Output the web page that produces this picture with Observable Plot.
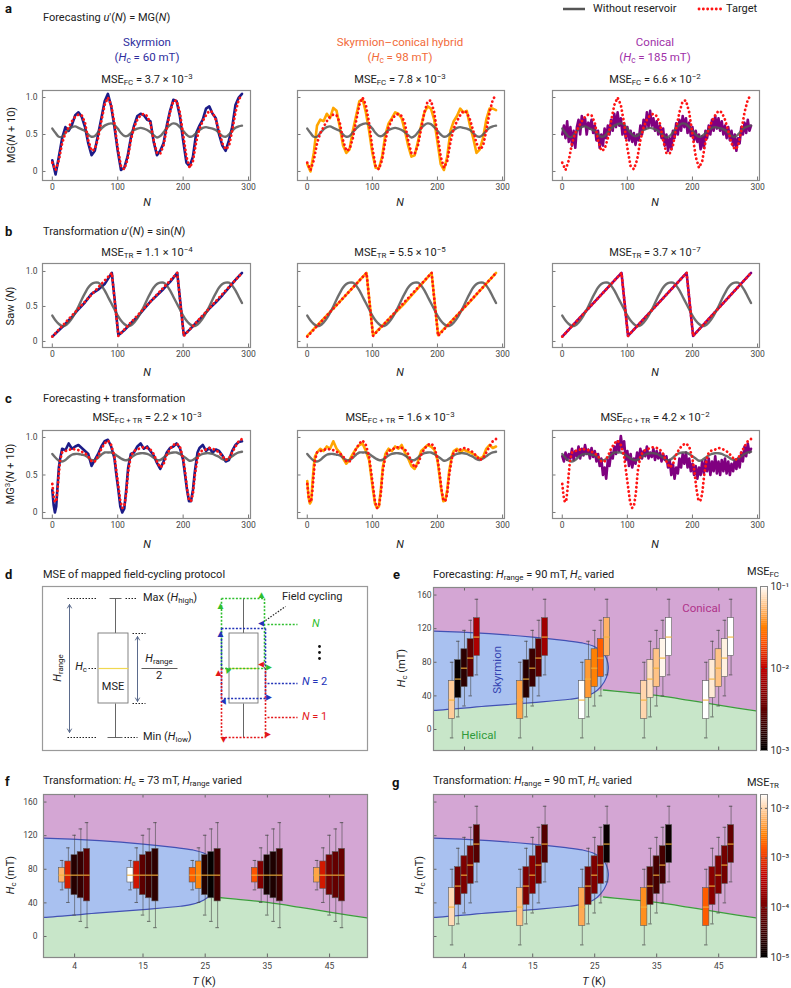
<!DOCTYPE html>
<html><head><meta charset="utf-8">
<script src="https://cdn.jsdelivr.net/npm/d3@7"></script>
<script src="https://cdn.jsdelivr.net/npm/@observablehq/plot@0.6"></script>
<style>
body{margin:0;background:#fff;}
#root{position:relative;width:791px;height:988px;overflow:hidden;font-family:Roboto,"Liberation Sans",sans-serif;color:#222;background:#fff;}
.t{position:absolute;white-space:nowrap;line-height:1.1;}
sub{font-size:0.72em;position:relative;top:0.28em;vertical-align:baseline;line-height:0;}
sup{font-size:0.72em;position:relative;top:-0.45em;vertical-align:baseline;line-height:0;}
svg{position:absolute;}
</style></head><body><div id="root"></div>
<script>
// ================= DATA =================
// --- panels a–c: grids of N ---
const N5 = d3.range(0, 291, 5);
const N25 = d3.range(0, 290.1, 2.5);
// a: Mackey-Glass forecasting
const mgTarget = [0.12,0.02,0.15,0.38,0.52,0.6,0.68,0.74,0.77,0.76,0.66,0.42,0.28,0.3,0.45,0.68,0.9,1.0,0.9,0.65,0.32,0.07,0.03,0.16,0.42,0.6,0.7,0.76,0.78,0.75,0.65,0.42,0.25,0.24,0.35,0.58,0.8,0.95,0.96,0.8,0.5,0.2,0.05,0.14,0.4,0.58,0.68,0.76,0.82,0.8,0.7,0.55,0.38,0.3,0.34,0.55,0.8,0.97,1.04];
const predSkyA = [0.15,-0.04,0.2,0.45,0.6,0.55,0.63,0.76,0.8,0.74,0.6,0.38,0.22,0.28,0.5,0.72,0.95,1.05,0.88,0.6,0.28,0.02,0.05,0.2,0.45,0.62,0.75,0.78,0.76,0.7,0.68,0.4,0.22,0.28,0.38,0.62,0.82,0.97,0.95,0.75,0.42,0.12,0.07,0.2,0.52,0.62,0.7,0.85,0.88,0.78,0.72,0.5,0.35,0.28,0.42,0.6,0.9,1.0,1.05];
const predHybA = [0.1,0.0,0.25,0.62,0.7,0.68,0.78,0.72,0.86,0.82,0.6,0.35,0.25,0.3,0.55,0.75,0.95,0.98,0.8,0.55,0.25,0.05,0.04,0.2,0.5,0.65,0.72,0.8,0.78,0.72,0.55,0.35,0.2,0.22,0.4,0.62,0.8,0.88,0.85,0.7,0.4,0.1,0.02,0.2,0.55,0.68,0.75,0.85,0.8,0.82,0.62,0.45,0.25,0.3,0.45,0.7,0.85,0.85,0.83];
const predConA = [0.5,0.62,0.45,0.68,0.4,0.6,0.35,0.55,0.32,0.6,0.7,0.5,0.75,0.62,0.72,0.5,0.66,0.58,0.7,0.52,0.62,0.42,0.55,0.32,0.5,0.35,0.58,0.45,0.62,0.5,0.7,0.55,0.78,0.6,0.8,0.62,0.72,0.5,0.65,0.45,0.6,0.42,0.55,0.4,0.52,0.36,0.5,0.42,0.62,0.5,0.7,0.58,0.8,0.6,0.82,0.62,0.72,0.55,0.68,0.5,0.62,0.45,0.58,0.35,0.5,0.28,0.45,0.3,0.55,0.45,0.65,0.5,0.7,0.55,0.75,0.6,0.72,0.52,0.66,0.48,0.6,0.42,0.55,0.4,0.5,0.3,0.48,0.32,0.55,0.45,0.62,0.5,0.7,0.55,0.75,0.58,0.72,0.55,0.68,0.5,0.62,0.45,0.6,0.42,0.55,0.35,0.5,0.28,0.45,0.38,0.6,0.5,0.66,0.52,0.7,0.55,0.62];
const grayA = [0.58,0.52,0.47,0.47,0.52,0.57,0.6,0.61,0.59,0.57,0.55,0.5,0.47,0.48,0.53,0.58,0.62,0.64,0.65,0.63,0.58,0.52,0.48,0.48,0.52,0.56,0.58,0.59,0.58,0.56,0.53,0.49,0.46,0.48,0.53,0.59,0.63,0.65,0.64,0.6,0.55,0.5,0.47,0.48,0.52,0.56,0.59,0.6,0.59,0.58,0.56,0.52,0.48,0.47,0.5,0.55,0.59,0.61,0.62];
// b: sawtooth transformation
const sawN = [0,91,101,191,201,290];
const sawV = [0.07,0.98,0.08,0.98,0.08,0.98];
const skyB_N = [0,10,20,30,40,50,60,70,80,91,101,110,120,130,140,150,160,170,180,191,201,210,220,230,240,250,260,270,280,290];
const skyB_V = [0.07,0.16,0.25,0.35,0.46,0.56,0.68,0.74,0.82,0.98,0.09,0.16,0.26,0.35,0.46,0.57,0.66,0.75,0.85,0.98,0.09,0.17,0.27,0.36,0.47,0.56,0.66,0.77,0.88,0.98];
const hybB_N = [0,45,91,101,150,191,201,250,290];
const hybB_V = [0.08,0.52,0.98,0.09,0.55,0.98,0.09,0.57,0.98];
const conB_N = [0,91,101,191,201,290];
const conB_V = [0.07,0.98,0.08,0.98,0.08,0.98];
const grayBPeriod = [0.37,0.3,0.25,0.22,0.23,0.27,0.33,0.41,0.5,0.6,0.69,0.77,0.82,0.84,0.84,0.8,0.73,0.64,0.55,0.46];
const grayB = [...grayBPeriod, ...grayBPeriod, ...grayBPeriod.slice(0, 19)];
// c: forecasting + transformation
const mg3N = [0,2,4,6,8,10,12,15,20,25,30,35,40,45,50,55,60,65,70,75,80,85,90,95,98,101,104,107,110,113,116,120,125,130,135,140,145,150,155,160,165,170,175,180,185,190,195,200,203,206,209,212,215,218,222,225,230,235,240,245,250,255,260,265,270,275,280,285,290];
const mg3Target = [0.38,0.22,0.14,0.15,0.3,0.52,0.7,0.8,0.82,0.83,0.85,0.84,0.83,0.81,0.79,0.75,0.68,0.68,0.75,0.85,0.92,0.96,0.9,0.75,0.55,0.35,0.15,0.06,0.08,0.25,0.55,0.75,0.82,0.84,0.86,0.87,0.86,0.84,0.78,0.68,0.6,0.64,0.77,0.85,0.9,0.92,0.88,0.72,0.55,0.32,0.17,0.15,0.25,0.5,0.72,0.8,0.83,0.84,0.86,0.85,0.83,0.8,0.75,0.7,0.72,0.8,0.88,0.95,0.98];
const predSkyC = [0.3,0.1,0.0,0.08,0.35,0.6,0.72,0.85,0.83,0.92,0.85,0.88,0.9,0.86,0.82,0.78,0.62,0.7,0.78,0.88,0.95,0.97,0.88,0.72,0.5,0.3,0.08,0.0,0.05,0.3,0.6,0.78,0.8,0.88,0.92,0.85,0.88,0.82,0.76,0.66,0.58,0.68,0.8,0.86,0.88,0.92,0.86,0.7,0.5,0.3,0.15,0.15,0.3,0.55,0.8,0.86,0.9,0.82,0.86,0.8,0.84,0.82,0.76,0.68,0.7,0.82,0.9,0.94,0.95];
const predHybC = [0.42,0.2,0.12,0.15,0.4,0.62,0.75,0.8,0.85,0.82,0.88,0.85,0.95,0.85,0.8,0.72,0.65,0.7,0.78,0.85,0.9,0.92,0.82,0.7,0.5,0.3,0.12,0.06,0.08,0.3,0.6,0.78,0.85,0.82,0.88,0.85,0.9,0.8,0.72,0.62,0.58,0.68,0.82,0.86,0.9,0.88,0.84,0.7,0.5,0.3,0.15,0.16,0.3,0.55,0.75,0.82,0.85,0.8,0.84,0.82,0.8,0.78,0.75,0.72,0.74,0.85,0.9,0.86,0.88];
const predConC = [0.75,0.68,0.8,0.7,0.78,0.72,0.85,0.7,0.82,0.75,0.88,0.72,0.85,0.76,0.9,0.78,0.84,0.72,0.86,0.74,0.82,0.68,0.78,0.62,0.72,0.5,0.6,0.45,0.7,0.62,0.8,0.72,0.88,0.78,0.95,0.82,1.02,0.85,0.95,0.7,0.82,0.62,0.78,0.6,0.72,0.65,0.8,0.7,0.85,0.72,0.82,0.75,0.88,0.72,0.8,0.74,0.85,0.7,0.82,0.72,0.8,0.68,0.78,0.7,0.75,0.6,0.7,0.5,0.65,0.45,0.6,0.52,0.72,0.6,0.78,0.65,0.8,0.6,0.72,0.55,0.65,0.5,0.62,0.45,0.6,0.5,0.68,0.52,0.7,0.55,0.72,0.5,0.68,0.55,0.75,0.52,0.68,0.5,0.7,0.55,0.72,0.52,0.68,0.5,0.65,0.55,0.7,0.58,0.72,0.6,0.8,0.68,0.88,0.75,0.92,0.8,0.85];
const grayC = [0.78,0.73,0.69,0.68,0.7,0.74,0.77,0.78,0.78,0.77,0.76,0.73,0.7,0.7,0.73,0.77,0.8,0.8,0.8,0.78,0.75,0.72,0.7,0.7,0.73,0.76,0.78,0.79,0.79,0.78,0.76,0.73,0.7,0.7,0.73,0.77,0.79,0.8,0.8,0.78,0.75,0.72,0.69,0.7,0.73,0.76,0.78,0.79,0.79,0.78,0.76,0.74,0.71,0.7,0.72,0.75,0.78,0.8,0.81];

// --- panels e–g ---
const T_GROUPS = [4, 15, 25, 35, 45];
const HC_VARIED = [35, 60, 73, 85, 110];
const HRANGE_FIXED = 90;
const HC_FIXED = 73;
const HRANGE_VARIED = [35, 65, 95, 110, 125];
const mseFC_e = [[0.063,0.0011,0.0017,0.0032,0.0079],[0.044,0.0016,0.002,0.0032,0.0069],[0.1,0.04,0.032,0.023,0.05],[0.069,0.076,0.058,0.091,0.1],[0.1,0.083,0.058,0.087,0.1]];
const mseTR_f = [[6.2e-3,6.9e-4,2.1e-5,2.9e-5,6.1e-5],[1.9e-2,5.9e-4,6.1e-5,3.4e-5,2.5e-5],[1.8e-3,3.1e-3,1.8e-5,1.1e-5,3.4e-5],[1.5e-3,1.3e-4,1.6e-5,1.8e-5,3.4e-5],[4.9e-3,6.3e-4,9.6e-5,7.1e-5,7.7e-5]];
const mseTR_g = [[1.1e-2,9.6e-5,1.2e-4,9.6e-5,5.2e-5],[7.7e-3,1.2e-4,1.5e-4,9.6e-5,5.2e-5],[5.3e-3,9.6e-5,1.2e-4,9.6e-5,1.2e-5],[3.6e-3,5.2e-5,3.9e-5,3.9e-5,1.25e-5],[1.7e-3,1.5e-4,1.2e-4,9.6e-5,7.1e-5]];
// phase boundaries (T in K, H in mT)
const skyT = [-4,-1,8,15,20,23,25,26.5,27.2,26.9,26,24.8,23,21,15,8,-1,-4];
const skyH = [117.3,117,114,110,106,103,98.5,90,75,62,51,43.5,38.5,36,32,28,22.8,22.5];
const helT = [-4,-1,8,15,21,23,24.8,26.4,30,35,40,45,52];
const helH = [22.5,22.8,28,32,36,38.5,43.5,47,44.5,40.5,35,29,21];
const helEdgeT = [26.4,30,35,40,45,52];
const helEdgeH = [47,44.5,40.5,35,29,21];
const phaseLabels = [
  {T:42.2, H:144.5, text:"Conical", color:"#b0338a", rotate:0},
  {T:9.3, H:71, text:"Skyrmion", color:"#3443b0", rotate:-90},
  {T:6.3, H:-7, text:"Helical", color:"#2f9a3a", rotate:0}
];

// --- panel d schematic (units in schematic space) ---
const dBoxes = [{x1:56,x2:86,y1:47,y2:117},{x1:187,x2:216,y1:47,y2:117}];
const dWhiskers = [{x1:73,y1:12,x2:73,y2:47},{x1:73,y1:117,x2:73,y2:151},{x1:201,y1:12,x2:201,y2:47},{x1:201,y1:117,x2:201,y2:151}];
const dCaps = [{x1:67,y1:12,x2:79,y2:12},{x1:65,y1:151,x2:80,y2:151}];
const dMedians = [{x1:56,y1:82,x2:86,y2:82},{x1:187,y1:82,x2:216,y2:82}];
const dLeaders = [{x1:25,y1:12,x2:55,y2:12},{x1:83,y1:12,x2:95,y2:12},{x1:46,y1:82,x2:55,y2:82},{x1:25,y1:151,x2:55,y2:151},{x1:82,y1:151,x2:95,y2:151},{x1:90,y1:47,x2:103,y2:47},{x1:90,y1:117,x2:103,y2:117},{x1:223,y1:34,x2:243,y2:20}];
const dRange = [{x1:27,y1:82,x2:27,y2:18},{x1:27,y1:82,x2:27,y2:146},{x1:95,y1:82,x2:95,y2:50},{x1:95,y1:82,x2:95,y2:115}];
const dFraction = [{x1:99,y1:82,x2:135,y2:82}];
const GREEN = "#2fbf2f", BLUE = "#2233b8", RED = "#e3171a";
const dCycle = [
  {x1:179,y1:82,x2:179,y2:12,c:GREEN},{x1:179,y1:12,x2:222,y2:12,c:GREEN},{x1:222,y1:12,x2:222,y2:82,c:GREEN},{x1:179,y1:82,x2:222,y2:82,c:GREEN},
  {x1:179,y1:42,x2:223,y2:42,c:BLUE},{x1:223,y1:42,x2:223,y2:112,c:BLUE},{x1:223,y1:112,x2:179,y2:112,c:BLUE},{x1:179,y1:112,x2:179,y2:42,c:BLUE},
  {x1:179,y1:82,x2:179,y2:151,c:RED},{x1:179,y1:151,x2:223,y2:151,c:RED},{x1:223,y1:151,x2:223,y2:82,c:RED},
  {x1:225,y1:38,x2:255,y2:38,c:GREEN},{x1:225,y1:97,x2:255,y2:97,c:BLUE},{x1:225,y1:131,x2:255,y2:131,c:RED}
];
const dHeads = [
  {x:178,y:19,r:0,c:GREEN},{x:219,y:8,r:0,c:GREEN},{x:185,y:85,r:200,c:GREEN},{x:227,y:81,r:90,c:GREEN},
  {x:178,y:47,r:0,c:BLUE},{x:218,y:37,r:-90,c:BLUE},{x:182,y:116,r:150,c:BLUE},{x:227,y:111,r:90,c:BLUE},
  {x:181,y:154,r:180,c:RED},{x:226,y:148,r:90,c:RED},{x:218,y:78,r:-90,c:RED},{x:176,y:86,r:0,c:RED}
];
const dVdots = [{x:277,y:60},{x:277,y:66},{x:277,y:72}];

// ================= HELPERS =================
const FONT = "Roboto, 'Liberation Sans', sans-serif";
const root = document.getElementById("root");
function txt(html, x, y, o = {}) {
  const {anchor = "middle", size = 11, color = "#222", weight = 400, rotate = 0} = o;
  const d = document.createElement("div");
  d.className = "t";
  d.innerHTML = html;
  Object.assign(d.style, {left: x + "px", top: y + "px", fontSize: size + "px", color, fontWeight: weight});
  const tx = anchor === "start" ? "0" : anchor === "end" ? "-100%" : "-50%";
  d.style.transform = `translate(${tx},-50%)` + (rotate ? ` rotate(${rotate}deg)` : "");
  root.appendChild(d);
}
function place(svg, left, top) { svg.style.left = left + "px"; svg.style.top = top + "px"; root.appendChild(svg); }
const pts = (Ns, vs) => vs.map((v, i) => ({N: Ns[i], v}));
function gistHeat(t) {
  const r = Math.min(1, 1.5 * t), g = Math.max(0, Math.min(1, 2 * t - 1)), b = Math.max(0, Math.min(1, 4 * t - 3));
  return d3.rgb(255 * r, 255 * g, 255 * b).formatHex();
}
const SUP = {"1":"¹","2":"²","3":"³","4":"⁴","5":"⁵"};

// ================= PANELS a–c =================
const XDOM = [-15, 303];
const COLS = [{x:42,w:208},{x:297,w:207},{x:552,w:207}];
const ROWS = {a:{y:90,h:90,dom:[-0.122,1.095]}, b:{y:263,h:84,dom:[-0.086,1.114]}, c:{y:430,h:88,dom:[-0.08,1.093]}};
const PRED_COLORS = ["#1c1c88", "#ffa500", "#800080"];
function tsPlot(col, row, pred, gray, target) {
  const {x: fx, w: fw} = COLS[col];
  const {y: fy, h: fh, dom} = ROWS[row];
  const mL = 36, mR = 4, mT = 3, mB = 16;
  const pxu = fw / (XDOM[1] - XDOM[0]), pyu = fh / (dom[1] - dom[0]);
  const svg = Plot.plot({
    width: fw + mL + mR, height: fh + mT + mB,
    marginLeft: mL, marginRight: mR, marginTop: mT, marginBottom: mB,
    style: {fontFamily: FONT, fontSize: "8.5px", color: "#444", background: "transparent", overflow: "visible"},
    x: {domain: XDOM, ticks: [0, 100, 200, 300], tickSize: 0, tickPadding: 3, label: null},
    y: {domain: dom, ticks: [0, 0.5, 1], tickSize: 0, tickPadding: 5, label: null, axis: col === 0 ? "left" : null, tickFormat: d => d === 0 ? "0" : d.toFixed(1)},
    marks: [
      Plot.line(pred, {x: "N", y: "v", stroke: PRED_COLORS[col], strokeWidth: 2.6, clip: true}),
      Plot.line(gray, {x: "N", y: "v", stroke: "#555", strokeOpacity: 0.85, strokeWidth: 2.4, curve: "catmull-rom", clip: true}),
      Plot.line(target, {x: "N", y: "v", stroke: "#ff1414", strokeWidth: 2.8, strokeDasharray: "0.1 4.2", strokeLinecap: "round", clip: true}),
      Plot.ruleX([0, 100, 200, 300], {x: d => d, y1: () => dom[0], y2: () => dom[0] + 3.5 / pyu, stroke: "#777"}),
      Plot.ruleY([0, 0.5, 1], {y: d => d, x1: () => XDOM[0], x2: () => XDOM[0] + 3.5 / pxu, stroke: "#777"}),
      Plot.frame({stroke: "#8a8a8a", strokeWidth: 1.2})
    ]
  });
  place(svg, fx - mL, fy - mT);
}
const aTarget = pts(N5, mgTarget);
tsPlot(0, "a", pts(N5, predSkyA), pts(N5, grayA), aTarget);
tsPlot(1, "a", pts(N5, predHybA), pts(N5, grayA), aTarget);
tsPlot(2, "a", pts(N25, predConA), pts(N5, grayA), aTarget);
const bTarget = pts(sawN, sawV);
tsPlot(0, "b", pts(skyB_N, skyB_V), pts(N5, grayB), bTarget);
tsPlot(1, "b", pts(hybB_N, hybB_V), pts(N5, grayB), bTarget);
tsPlot(2, "b", pts(conB_N, conB_V), pts(N5, grayB), bTarget);
const cTarget = pts(mg3N, mg3Target);
tsPlot(0, "c", pts(mg3N, predSkyC), pts(N5, grayC), cTarget);
tsPlot(1, "c", pts(mg3N, predHybC), pts(N5, grayC), cTarget);
tsPlot(2, "c", pts(N25, predConC), pts(N5, grayC), cTarget);

// ================= PANELS e–g =================
const C_CON = "#d4a6d4", C_SKY = "#a9c1f0", C_HEL = "#c8e6c9", C_SKY_EDGE = "#4251b4", C_HEL_EDGE = "#3d9c3d";
const skyPts = skyT.map((T, i) => ({T, H: skyH[i]}));
const helPts = helT.map((T, i) => ({T, H: helH[i]}));
const helEdgePts = helEdgeT.map((T, i) => ({T, H: helEdgeH[i]}));
function phase(fx, fy, fw, fh, boxes, cdom, showY, showX, yPad, annotate) {
  const XD = [-1, 51.1], YD = [-25, 169];
  const mL = 30, mR = 2, mT = 2, mB = showX ? 20 : 3;
  const pxu = fw / (XD[1] - XD[0]), pyu = fh / (YD[1] - YD[0]);
  const marks = [
    Plot.frame({fill: C_CON, stroke: null}),
    Plot.areaY(helPts, {x: "T", y1: () => YD[0] - 20, y2: "H", fill: C_HEL, clip: true}),
    Plot.line(skyPts, {x: "T", y: "H", fill: C_SKY, stroke: C_SKY_EDGE, strokeWidth: 1.2, curve: "catmull-rom-closed", clip: true}),
    Plot.line(helEdgePts, {x: "T", y: "H", stroke: C_HEL_EDGE, strokeWidth: 1.3, curve: "catmull-rom", clip: true}),
    Plot.ruleX(boxes, {x: "x", y1: "lo", y2: "hi", stroke: "#4a4a4a", strokeWidth: 0.8, strokeOpacity: 0.75}),
    Plot.ruleY(boxes, {y: "hi", x1: d => d.x - 0.28, x2: d => d.x + 0.28, stroke: "#4a4a4a", strokeWidth: 0.8}),
    Plot.ruleY(boxes, {y: "lo", x1: d => d.x - 0.28, x2: d => d.x + 0.28, stroke: "#4a4a4a", strokeWidth: 0.8}),
    Plot.rect(boxes, {x1: d => d.x - 0.5, x2: d => d.x + 0.5, y1: "q1", y2: "q3", fill: "mse", stroke: "#5a5a5a", strokeWidth: 0.6}),
    Plot.ruleY(boxes, {y: "hc", x1: d => d.x - 0.5, x2: d => d.x + 0.5, stroke: "#f2b23a", strokeWidth: 1.1}),
    Plot.ruleX(T_GROUPS, {x: d => d, y1: () => YD[0], y2: () => YD[0] + 3.5 / pyu, stroke: "#666"}),
    Plot.ruleX(T_GROUPS, {x: d => d, y1: () => YD[1], y2: () => YD[1] - 3.5 / pyu, stroke: "#666"}),
    Plot.ruleY([0, 40, 80, 120, 160], {y: d => d, x1: () => XD[0], x2: () => XD[0] + 3.5 / pxu, stroke: "#666"}),
    Plot.frame({stroke: "#888", strokeWidth: 1.2})
  ];
  if (annotate) marks.push(Plot.text(phaseLabels, {x: "T", y: "H", text: "text", fill: d => d.color, rotate: "rotate", fontSize: 11.5}));
  const svg = Plot.plot({
    width: fw + mL + mR, height: fh + mT + mB,
    marginLeft: mL, marginRight: mR, marginTop: mT, marginBottom: mB,
    style: {fontFamily: FONT, fontSize: "8.5px", color: "#444", background: "transparent", overflow: "visible"},
    x: {domain: XD, ticks: T_GROUPS, tickSize: 0, tickPadding: 5, label: null, axis: showX ? "bottom" : null},
    y: {domain: YD, ticks: [0, 40, 80, 120, 160], tickSize: 0, tickPadding: yPad, label: null, axis: showY ? "left" : null},
    color: {type: "log", domain: cdom, interpolate: gistHeat, clamp: true},
    marks
  });
  place(svg, fx - mL, fy - mT);
}
function colorbar(fx, fy, fw, fh, cdom, tickVals) {
  const lo = Math.log10(cdom[0]), hi = Math.log10(cdom[1]), n = 80;
  const steps = d3.range(n).map(i => {
    const a = 10 ** (lo + (hi - lo) * i / n), b = 10 ** (lo + (hi - lo) * (i + 1) / n);
    return {a, b, m: Math.sqrt(a * b)};
  });
  const svg = Plot.plot({
    width: fw + 24, height: fh + 2, marginLeft: 0, marginRight: 24, marginTop: 1, marginBottom: 1,
    style: {fontFamily: FONT, fontSize: "10px", color: "#333", background: "transparent", overflow: "visible"},
    x: {domain: [0, 1], axis: null},
    y: {type: "log", domain: cdom, axis: "right", ticks: tickVals, tickSize: 0, tickPadding: 3, label: null,
        tickFormat: d => "10⁻" + SUP[String(Math.round(-Math.log10(d)))]},
    color: {type: "log", domain: cdom, interpolate: gistHeat, clamp: true},
    marks: [
      Plot.rect(steps, {x1: () => 0, x2: () => 1, y1: "a", y2: "b", fill: "m"}),
      Plot.ruleY(tickVals, {y: d => d, x1: () => 0, x2: () => 0.3, stroke: "#555"}),
      Plot.ruleY(tickVals, {y: d => d, x1: () => 0.7, x2: () => 1, stroke: "#555"}),
      Plot.frame({stroke: "#888"})
    ]
  });
  place(svg, fx, fy - 1);
}
const boxesE = T_GROUPS.flatMap((T, gi) => HC_VARIED.map((hc, i) => ({x: T + (i - 2), hc, lo: hc - HRANGE_FIXED / 2, hi: hc + HRANGE_FIXED / 2, q1: hc - HRANGE_FIXED / 4, q3: hc + HRANGE_FIXED / 4, mse: mseFC_e[gi][i]})));
const boxesF = T_GROUPS.flatMap((T, gi) => HRANGE_VARIED.map((r, i) => ({x: T + (i - 2), hc: HC_FIXED, lo: HC_FIXED - r / 2, hi: HC_FIXED + r / 2, q1: HC_FIXED - r / 4, q3: HC_FIXED + r / 4, mse: mseTR_f[gi][i]})));
const boxesG = T_GROUPS.flatMap((T, gi) => HC_VARIED.map((hc, i) => ({x: T + (i - 2), hc, lo: hc - HRANGE_FIXED / 2, hi: hc + HRANGE_FIXED / 2, q1: hc - HRANGE_FIXED / 4, q3: hc + HRANGE_FIXED / 4, mse: mseTR_g[gi][i]})));
const FC_DOM = [1e-3, 1e-1], TR_DOM = [1e-5, 1.9e-2];
phase(433, 587, 323, 163, boxesE, FC_DOM, true, false, 2, true);
phase(43, 794, 324, 163, boxesF, TR_DOM, true, true, 6, false);
phase(433, 794, 323, 163, boxesG, TR_DOM, false, true, 0, false);
colorbar(760, 586, 7, 164, FC_DOM, [1e-3, 1e-2, 1e-1]);
colorbar(760, 794, 7, 163, TR_DOM, [1e-5, 1e-4, 1e-3, 1e-2]);

// ================= PANEL d =================
const dPlot = Plot.plot({
  width: 325, height: 164, margin: 0,
  style: {background: "transparent", overflow: "visible", fontFamily: FONT},
  x: {domain: [0, 325], axis: null},
  y: {domain: [0, 164], reverse: true, axis: null},
  color: {type: "identity"},
  marks: [
    Plot.frame({stroke: "#9a9a9a", strokeWidth: 1.2}),
    Plot.link(dWhiskers, {x1: "x1", y1: "y1", x2: "x2", y2: "y2", stroke: "#555", strokeWidth: 0.9}),
    Plot.link(dCaps, {x1: "x1", y1: "y1", x2: "x2", y2: "y2", stroke: "#555", strokeWidth: 0.9}),
    Plot.rect(dBoxes, {x1: "x1", x2: "x2", y1: "y1", y2: "y2", fill: "white", stroke: "#777", strokeWidth: 0.9}),
    Plot.link(dMedians, {x1: "x1", y1: "y1", x2: "x2", y2: "y2", stroke: "#f0d850", strokeWidth: 1.2}),
    Plot.link(dLeaders, {x1: "x1", y1: "y1", x2: "x2", y2: "y2", stroke: "#222", strokeWidth: 1.2, strokeDasharray: "1.5 1.5"}),
    Plot.arrow(dRange, {x1: "x1", y1: "y1", x2: "x2", y2: "y2", stroke: "#5b6b8c", strokeWidth: 1, headLength: 6}),
    Plot.link(dFraction, {x1: "x1", y1: "y1", x2: "x2", y2: "y2", stroke: "#333", strokeWidth: 0.8}),
    Plot.link(dCycle, {x1: "x1", y1: "y1", x2: "x2", y2: "y2", stroke: "c", strokeWidth: 1.6, strokeDasharray: "2 1.6"}),
    Plot.text(dHeads, {x: "x", y: "y", text: () => "▲", rotate: "r", fill: "c", fontSize: 10}),
    Plot.dot(dVdots, {x: "x", y: "y", r: 1.4, fill: "#111", stroke: null})
  ]
});
place(dPlot, 42, 586);

// ================= TEXT =================
const L = {size: 13, weight: 700, anchor: "start", color: "#111"};
txt("a", 5, 9, L); txt("b", 5, 232, L); txt("c", 5, 399, L); txt("d", 5, 575, L);
txt("e", 393, 575, L); txt("f", 5, 782, L); txt("g", 392, 783, L);
const T1 = {anchor: "start", size: 11, color: "#222"};
txt("Forecasting <i>u</i>′(<i>N</i>) = MG(<i>N</i>)", 43, 18, T1);
txt("Transformation <i>u</i>′(<i>N</i>) = sin(<i>N</i>)", 43, 232, T1);
txt("Forecasting + transformation", 43, 399, T1);
txt("MSE of mapped field-cycling protocol", 43, 575, T1);
txt("Forecasting: <i>H</i><sub>range</sub> = 90 mT, <i>H</i><sub>c</sub> varied", 433, 575, T1);
txt("Transformation: <i>H</i><sub>c</sub> = 73 mT, <i>H</i><sub>range</sub> varied", 43, 781, T1);
txt("Transformation: <i>H</i><sub>range</sub> = 90 mT, <i>H</i><sub>c</sub> varied", 433, 781, T1);
// legend
const leg = document.createElementNS("http://www.w3.org/2000/svg", "svg");
leg.setAttribute("width", 170); leg.setAttribute("height", 12);
leg.innerHTML = '<line x1="3" y1="6" x2="25" y2="6" stroke="#555" stroke-width="2.5"/><line x1="139" y1="6" x2="161" y2="6" stroke="#ff1414" stroke-width="2.8" stroke-dasharray="0.1 4.2" stroke-linecap="round"/>';
place(leg, 560, 3);
txt("Without reservoir", 593, 9, T1);
txt("Target", 726, 9, T1);
// column headers
const CX = [147, 400, 655];
const HEAD = [["Skyrmion", "60", "#2e2e9e"], ["Skyrmion–conical hybrid", "98", "#f26b3a"], ["Conical", "185", "#a030a8"]];
HEAD.forEach(([name, hc, col], i) => {
  txt(name, CX[i], 42, {size: 11.5, color: col});
  txt(`(<i>H</i><sub>c</sub> = ${hc} mT)`, CX[i], 57, {size: 11.5, color: col});
});
const mse = (s, m, e) => `MSE<sub>${s}</sub> = ${m} × 10<sup>−${e}</sup>`;
[["3.7","3"],["7.8","3"],["6.6","2"]].forEach(([m,e],i) => txt(mse("FC", m, e), CX[i], 80));
[["1.1","4"],["5.5","5"],["3.7","7"]].forEach(([m,e],i) => txt(mse("TR", m, e), CX[i], 253));
[["2.2","3"],["1.6","3"],["4.2","2"]].forEach(([m,e],i) => txt(mse("FC + TR", m, e), CX[i], 418));
CX.forEach(x => { txt("<i>N</i>", x, 203); txt("<i>N</i>", x, 373); txt("<i>N</i>", x, 545); });
txt("MG(<i>N</i> + 10)", 12, 135, {rotate: -90});
txt("Saw (<i>N</i>)", 11, 306, {rotate: -90});
txt("MG<sup>3</sup>(<i>N</i> + 10)", 11, 474, {rotate: -90});
txt("<i>H</i><sub>c</sub> (mT)", 402, 668, {rotate: -90});
txt("<i>H</i><sub>c</sub> (mT)", 11, 875, {rotate: -90});
txt("<i>H</i><sub>c</sub> (mT)", 420, 875, {rotate: -90});
txt("<i>T</i> (K)", 204, 982); txt("<i>T</i> (K)", 594, 982);
txt("MSE<sub>FC</sub>", 763, 572);
txt("MSE<sub>TR</sub>", 763, 783);
// panel d texts
txt("Max (<i>H</i><sub>high</sub>)", 143, 598, T1);
txt("Min (<i>H</i><sub>low</sub>)", 143, 737, T1);
txt("<i>H</i><sub>c</sub>", 87, 667, {anchor: "end"});
txt("MSE", 113, 687);
txt("<i>H</i><sub>range</sub>", 58, 668, {rotate: -90});
txt("<i>H</i><sub>range</sub>", 159, 659);
txt("2", 159, 676);
txt("Field cycling", 282, 597, T1);
txt("<i>N</i>", 312, 624, {anchor: "start", color: GREEN});
txt("<i>N</i> = 2", 302, 682, {anchor: "start", color: BLUE});
txt("<i>N</i> = 1", 302, 717, {anchor: "start", color: RED});
</script></body></html>
